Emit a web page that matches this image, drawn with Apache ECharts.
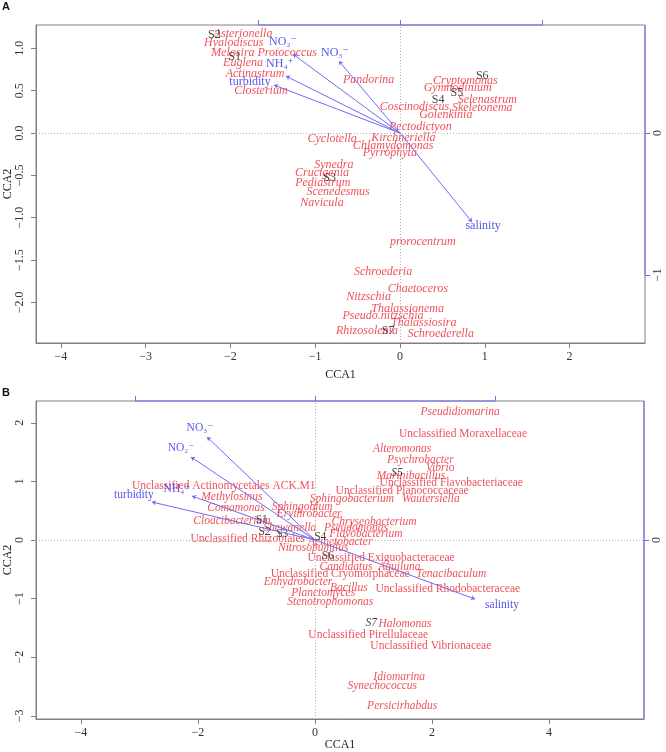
<!DOCTYPE html>
<html lang="en">
<head>
  <meta charset="utf-8">
</head>
<body style="margin: 0">
  <div id="container" style="width: 666px; height: 752px"></div>
  <script src="https://cdn.jsdelivr.net/npm/echarts@6/dist/echarts.min.js"></script>
  <script>
    // ---- panel A: phytoplankton ----
    const aSpecies = ['Asterionella', 'Hyalodiscus', 'Melosira', 'Protococcus', 'Euglena', 'Actinastrum',
      'Closterium', 'Pandorina', 'Cryptomonas', 'Gymnodinium', 'Selenastrum', 'Coscinodiscus',
      'Skeletonema', 'Golenkinia', 'Pectodictyon', 'Cyclotella', 'Kirchneriella', 'Chlamydomonas',
      'Pyrrophyta', 'Synedra', 'Crucigenia', 'Pediastrum', 'Scenedesmus', 'Navicula', 'prorocentrum',
      'Schroederia', 'Chaetoceros', 'Nitzschia', 'Thalassionema', 'Pseudo.nitzschia', 'Thalassiosira',
      'Rhizosolenia', 'Schroederella'];
    const aSpeciesX = [-1.85, -1.96, -1.97, -1.33, -1.85, -1.71, -1.64, -0.37, 0.77, 0.68, 1.03, 0.17,
      0.97, 0.54, 0.24, -0.80, 0.04, -0.08, -0.12, -0.78, -0.92, -0.91, -0.73, -0.92, 0.27,
      -0.20, 0.21, -0.37, 0.09, -0.20, 0.28, -0.39, 0.48];
    const aSpeciesY = [1.17, 1.06, 0.95, 0.95, 0.83, 0.70, 0.50, 0.63, 0.61, 0.53, 0.39, 0.31,
      0.30, 0.21, 0.07, -0.07, -0.06, -0.15, -0.24, -0.37, -0.47, -0.59, -0.70, -0.82, -1.29,
      -1.64, -1.84, -1.94, -2.07, -2.16, -2.24, -2.34, -2.37];
    const aSites = ['S1', 'S2', 'S3', 'S4', 'S5', 'S6', 'S7'];
    const aSiteX = [-1.95, -2.19, -0.83, 0.45, 0.67, 0.97, -0.14];
    const aSiteY = [0.90, 1.16, -0.53, 0.39, 0.47, 0.67, -2.33];
    const aEnv = ['NO₂⁻', 'NO₃⁻', 'NH₄⁺', 'turbidity', 'salinity'];
    const aEnvX = [-0.754, -0.430, -0.803, -0.887, 0.507];
    const aEnvY = [0.556, 0.507, 0.401, 0.338, -0.627];
    const aEnvLabelX = [-0.824, -0.458, -0.845, -1.056, 0.585];
    const aEnvLabelY = [0.641, 0.563, 0.486, 0.359, -0.655];

    // ---- panel B: bacteria ----
    const bSpecies = ['Pseudidiomarina', 'Unclassified Moraxellaceae', 'Alteromonas', 'Psychrobacter',
      'Vibrio', 'Marinibacillus', 'Unclassified Flavobacteriaceae', 'Unclassified Planococcaceae',
      'Sphingobacterium', 'Wautersiella', 'Unclassified Actinomycetales ACK.M1', 'Methylosinus',
      'Comamonas', 'Sphingobium', 'Erythrobacter', 'Cloacibacterium', 'Shewanella',
      'Unclassified Rhizobiales', 'Chryseobacterium', 'Pseudomonas', 'Flavobacterium', 'Acinetobacter',
      'Nitrosopumilus', 'Unclassified Exiguobacteraceae', 'Candidatus  Aquiluna',
      'Unclassified Cryomorphaceae', 'Tenacibaculum', 'Enhydrobacter', 'Bacillus',
      'Unclassified Rhodobacteraceae', 'Planctomyces', 'Stenotrophomonas', 'Halomonas',
      'Unclassified Pirellulaceae', 'Unclassified Vibrionaceae', 'Idiomarina', 'Synechococcus',
      'Persicirhabdus'];
    const bSpeciesX = [2.48, 2.53, 1.49, 1.80, 2.14, 1.64, 2.33, 1.49, 0.63, 1.98, -1.56, -1.42,
      -1.35, -0.22, -0.10, -1.42, -0.43, -1.15, 1.01, 0.70, 0.87, 0.43, -0.03, 1.13, 0.94,
      0.43, 2.33, -0.29, 0.58, 2.27, 0.14, 0.26, 1.54, 0.91, 1.98, 1.44, 1.15, 1.49];
    const bSpeciesY = [2.18, 1.81, 1.55, 1.37, 1.23, 1.09, 0.97, 0.84, 0.70, 0.70, 0.92, 0.73,
      0.55, 0.56, 0.44, 0.32, 0.21, 0.02, 0.31, 0.21, 0.10, -0.03, -0.14, -0.31, -0.46,
      -0.58, -0.58, -0.72, -0.82, -0.84, -0.90, -1.06, -1.43, -1.62, -1.81, -2.34, -2.49, -2.83];
    const bSites = ['S1', 'S2', 'S3', 'S4', 'S5', 'S6', 'S7'];
    const bSiteX = [-0.91, -0.86, -0.56, 0.09, 1.40, 0.22, 0.96];
    const bSiteY = [0.34, 0.14, 0.10, 0.05, 1.14, -0.27, -1.42];
    const bEnv = ['NO₃⁻', 'NO₂⁻', 'NH₄⁺', 'turbidity', 'salinity'];
    const bEnvX = [-0.600, -0.689, -0.683, -0.906, 0.889];
    const bEnvY = [0.572, 0.461, 0.244, 0.211, -0.328];
    const bEnvLabelX = [-0.639, -0.744, -0.767, -1.006, 1.039];
    const bEnvLabelY = [0.622, 0.511, 0.283, 0.250, -0.361];

    const aXTicks = [-4, -3, -2, -1, 0, 1, 2];
    const aYTicks = [-2, -1.5, -1, -0.5, 0, 0.5, 1];
    const bXTicks = [-4, -2, 0, 2, 4];
    const bYTicks = [-3, -2, -1, 0, 1, 2];

    const RED = '#ec2430';
    const BLUE = '#2a2ae6';
    const ARROW = '#6c6cf0';
    const GREY = '#808080';
    const SERIF = '"Liberation Serif", "DejaVu Serif", serif';

    function fmt(dec) {
      return function (v) {
        return (dec ? v.toFixed(dec) : String(v)).replace('-', '\u2212');
      };
    }

    function frameLine(xi, yi, pts) {
      return {
        type: 'line', xAxisIndex: xi, yAxisIndex: yi, silent: true, clip: false,
        symbol: 'none', data: pts,
        lineStyle: { color: ARROW, width: 1 }, z: 8
      };
    }

    function panel(p) {
      const gi = p.grid;
      const xMain = {
        gridIndex: gi, type: 'value', position: 'bottom', min: p.xr[0], max: p.xr[1],
        name: 'CCA1', nameLocation: 'middle', nameGap: p.xNameGap, nameMoveOverlap: false,
        nameTextStyle: { fontFamily: SERIF, fontSize: 12, color: '#222' },
        axisLine: { show: true, onZero: false, lineStyle: { color: GREY } },
        axisTick: { show: true, length: 5, customValues: p.xTicks, lineStyle: { color: GREY } },
        axisLabel: { customValues: p.xTicks, formatter: fmt(0), margin: 8, fontFamily: SERIF, fontSize: 12, color: '#333' },
        splitLine: { show: false }
      };
      const yMain = {
        gridIndex: gi, type: 'value', position: 'left', min: p.yr[0], max: p.yr[1],
        name: 'CCA2', nameLocation: 'middle', nameGap: 22, nameMoveOverlap: false,
        nameTextStyle: { fontFamily: SERIF, fontSize: 12, color: '#222' },
        axisLine: { show: true, onZero: false, lineStyle: { color: GREY } },
        axisTick: { show: true, length: 5, customValues: p.yTicks, lineStyle: { color: GREY } },
        axisLabel: { customValues: p.yTicks, formatter: fmt(p.yDec), rotate: 90, margin: 10, fontFamily: SERIF, fontSize: 12, color: '#333' },
        splitLine: { show: false }
      };
      const xArr = {
        gridIndex: gi, type: 'value', position: 'top', min: p.axr[0], max: p.axr[1],
        axisLine: { show: false, onZero: false },
        axisTick: { show: true, length: 5, customValues: [-1, 0, 1], lineStyle: { color: ARROW } },
        axisLabel: { show: false },
        splitLine: { show: false }
      };
      const yArr = {
        gridIndex: gi, type: 'value', position: 'right', min: p.ayr[0], max: p.ayr[1],
        axisLine: { show: false, onZero: false },
        axisTick: { show: true, length: 5, customValues: p.rTicks, lineStyle: { color: ARROW } },
        axisLabel: { customValues: p.rTicks, formatter: fmt(0), rotate: 90, margin: 7, fontFamily: SERIF, fontSize: 12, color: '#333' },
        splitLine: { show: false }
      };

      const xi = gi * 2, yi = gi * 2;
      const series = [];
      series.push({
        type: 'scatter', xAxisIndex: xi, yAxisIndex: yi, symbolSize: 0, silent: true,
        data: p.sp.map(function (n, i) {
          return {
            name: n, value: [p.spX[i], p.spY[i]],
            label: { fontStyle: n.indexOf('Unclassified') === 0 ? 'normal' : 'italic' }
          };
        }),
        label: { show: true, position: 'inside', formatter: '{b}', color: RED, fontFamily: SERIF, fontSize: p.fs },
        markLine: {
          silent: true, symbol: 'none', label: { show: false },
          lineStyle: { type: [1, 2], color: '#b0b0b0', width: 1 },
          data: [{ xAxis: 0 }, { yAxis: 0 }]
        },
        z: 3
      });
      series.push({
        type: 'scatter', xAxisIndex: xi, yAxisIndex: yi, symbolSize: 0, silent: true,
        data: p.st.map(function (n, i) {
          return { name: n, value: [p.stX[i], p.stY[i]], label: { fontStyle: p.stItalic.indexOf(n) >= 0 ? 'italic' : 'normal' } };
        }),
        label: { show: true, position: 'inside', formatter: '{b}', color: '#111', fontFamily: SERIF, fontSize: p.fs },
        z: 4
      });
      series.push({
        type: 'lines', coordinateSystem: 'cartesian2d', xAxisIndex: xi + 1, yAxisIndex: yi + 1, silent: true,
        symbol: ['none', 'arrow'], symbolSize: 4,
        lineStyle: { color: ARROW, width: 1, opacity: 1 },
        data: p.env.map(function (n, i) {
          return { coords: [[0, 0], [p.envX[i], p.envY[i]]] };
        }),
        z: 5
      });
      series.push({
        type: 'scatter', xAxisIndex: xi + 1, yAxisIndex: yi + 1, symbolSize: 0, silent: true,
        data: p.env.map(function (n, i) {
          return { name: n, value: [p.envLX[i], p.envLY[i]] };
        }),
        label: { show: true, position: 'inside', formatter: '{b}', color: BLUE, fontFamily: SERIF, fontSize: p.fs },
        z: 5
      });
      // blue biplot-scale axis lines along the frame (top and right)
      series.push(frameLine(xi + 1, yi + 1, [[-1, p.ayr[1]], [1, p.ayr[1]]]));
      series.push(frameLine(xi + 1, yi + 1, [[p.axr[1], p.ayr[1]], [p.axr[1], p.rLineEnd]]));
      return { x: [xMain, xArr], y: [yMain, yArr], series: series };
    }

    const pa = panel({
      grid: 0, xr: [-4.292, 2.889], yr: [-2.479, 1.275], axr: [-2.563, 1.725], ayr: [-1.479, 0.761],
      xTicks: aXTicks, yTicks: aYTicks, yDec: 1, rTicks: [-1, 0], rLineEnd: -1, xNameGap: 26, fs: 12,
      sp: aSpecies, spX: aSpeciesX, spY: aSpeciesY, st: aSites, stX: aSiteX, stY: aSiteY, stItalic: [],
      env: aEnv, envX: aEnvX, envY: aEnvY, envLX: aEnvLabelX, envLY: aEnvLabelY
    });
    const pb = panel({
      grid: 1, xr: [-4.769, 5.624], yr: [-3.055, 2.372], axr: [-1.55, 1.828], ayr: [-0.994, 0.772],
      xTicks: bXTicks, yTicks: bYTicks, yDec: 0, rTicks: [0], rLineEnd: -0.994, xNameGap: 20, fs: 11.5,
      sp: bSpecies, spX: bSpeciesX, spY: bSpeciesY, st: bSites, stX: bSiteX, stY: bSiteY, stItalic: ['S5', 'S7'],
      env: bEnv, envX: bEnvX, envY: bEnvY, envLX: bEnvLabelX, envLY: bEnvLabelY
    });

    const chart = echarts.init(document.getElementById('container'), null, { renderer: 'canvas' });
    const option = {
      animation: false,
      backgroundColor: '#fff',
      grid: [
        { left: 36, top: 25, width: 609, height: 318, outerBoundsMode: 'none', containLabel: false,
          show: true, borderColor: GREY, borderWidth: 1, backgroundColor: 'transparent' },
        { left: 36, top: 401, width: 608, height: 318, outerBoundsMode: 'none', containLabel: false,
          show: true, borderColor: GREY, borderWidth: 1, backgroundColor: 'transparent' }
      ],
      xAxis: pa.x.concat(pb.x),
      yAxis: pa.y.concat(pb.y),
      series: pa.series.concat(pb.series),
      graphic: [
        { type: 'text', left: 2, top: 1, style: { text: 'A', font: 'bold 11px "Liberation Sans", Arial, sans-serif', fill: '#111' } },
        { type: 'text', left: 2, top: 387, style: { text: 'B', font: 'bold 11px "Liberation Sans", Arial, sans-serif', fill: '#111' } }
      ]
    };
    chart.setOption(option);
  </script>
</body>
</html>
